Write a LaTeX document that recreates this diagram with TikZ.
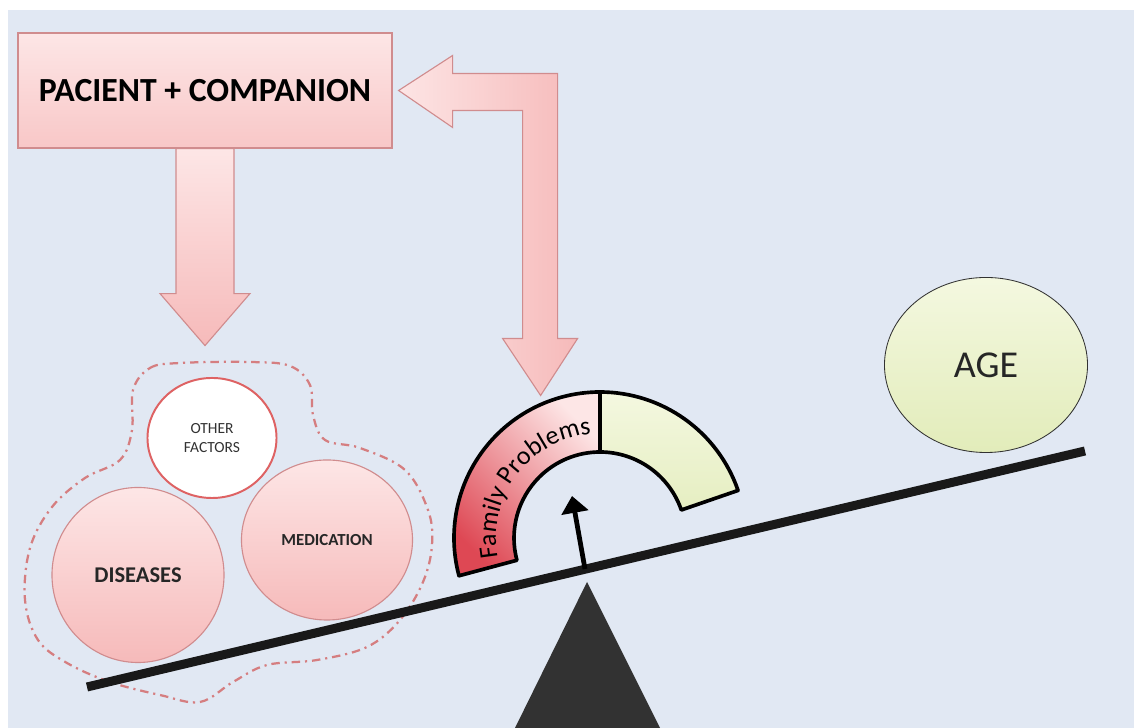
\documentclass[tikz,border=0pt]{standalone}
\usepackage{fontspec}
\setmainfont{Carlito}
\usepackage{tikz}
\usetikzlibrary{arrows.meta,shapes.geometric,decorations.text}
\definecolor{fondo}{RGB}{225,232,243}
\definecolor{rosaClaro}{RGB}{253,230,230}
\definecolor{rosa}{RGB}{246,186,186}
\definecolor{borde}{RGB}{208,140,142}
\definecolor{rojo}{RGB}{222,72,84}
\definecolor{limaClaro}{RGB}{244,248,224}
\definecolor{lima}{RGB}{226,236,186}
\definecolor{grisOscuro}{RGB}{50,50,50}
\tikzstyle{caja}  =[rectangle, draw=borde, line width=0.8pt,
                    top color=rosaClaro, bottom color=rosa!70!rosaClaro,
                    minimum width=9.35cm, minimum height=2.875cm,
                    font=\fontsize{24}{28}\selectfont\bfseries]
\tikzstyle{bloque}=[draw=borde, line width=0.8pt]
\tikzstyle{bola}  =[ellipse, draw=borde, line width=0.8pt,
                    top color=rosaClaro, bottom color=rosa,
                    inner sep=0pt, text=black!85]
\tikzstyle{nube}  =[draw=borde!90!red, line width=1.6pt,
                    dash pattern=on 6pt off 3.5pt on 1.5pt off 3.5pt]
\tikzstyle{barra} =[line width=6.4pt, black!90]
\tikzstyle{aguja} =[line width=3.4pt, black,
                    -{Triangle[length=12pt,width=19pt]}]
\tikzstyle{arco}  =[draw=black, line width=2.6pt, line join=round]

\begin{document}
\begin{tikzpicture}[x=0.025cm, y=0.025cm]
    \useasboundingbox (0,0) rectangle (1134,728);
    \fill[fondo] (8,0) rectangle (1134,718);

    % grupo de factores
    \draw[nube] plot[smooth cycle, tension=0.6] coordinates {
        (133,338) (150,360) (180,365) (250,366) (290,362) (310,343)
        (313,313) (325,288) (360,280) (405,258) (428,218) (432,183)
        (423,146) (400,108) (367,81) (317,68) (267,63) (233,46)
        (200,26) (160,33) (110,46) (67,65) (38,88) (25,128)
        (30,180) (52,221) (85,250) (120,268) (132,298)};

    % balanza
    \coordinate (beamL) at (87,41);
    \coordinate (beamR) at (1085,277);
    \draw[barra] (beamL) -- (beamR);
    \fill[grisOscuro] (587,146) -- (660,0) -- (515,0) -- cycle;

    \draw (212,290) node (other) [bola, fill=white, top color=white, bottom color=white,
        draw=borde!70!red, line width=1.4pt, minimum width=3.225cm, minimum height=3cm,
        align=center, text=grisOscuro, font=\fontsize{11}{13}\selectfont] {OTHER\\FACTORS};
    \draw (138,153) node (diseases) [bola, minimum width=4.3cm, minimum height=4.375cm,
        font=\fontsize{16}{18}\selectfont\bfseries] {DISEASES};
    \draw (327,188) node (medication) [bola, minimum width=4.275cm, minimum height=4cm,
        font=\fontsize{12}{14}\selectfont\bfseries] {MEDICATION};
    \draw (986,363) node (age) [bola, draw=grisOscuro, line width=0.6pt,
        top color=limaClaro, bottom color=lima, minimum width=5.075cm,
        minimum height=4.375cm, font=\fontsize{27}{30}\selectfont] {AGE};

    % indicador
    \coordinate (hub) at (600,190);
    \draw[arco, top color=rosaClaro, bottom color=rojo, shading angle=-45]
        (hub) ++(90:146) arc[start angle=90, end angle=195, radius=146]
        -- ++(195:-60) arc[start angle=195, end angle=90, radius=86] -- cycle;
    \draw[arco, top color=limaClaro, bottom color=lima]
        (hub) ++(19:146) arc[start angle=19, end angle=90, radius=146]
        -- ++(90:-60) arc[start angle=90, end angle=19, radius=86] -- cycle;
    \path[decorate, decoration={text along path, text align=left,
        text={|\fontsize{18.5}{21}\selectfont|Family Problems}}]
        (hub) ++(191:104) arc[start angle=191, end angle=92, radius=104];

    \coordinate (pivot) at (585,159);
    \coordinate (needle) at (572,232);
    \draw[aguja] (pivot) -- (needle);

    % paciente y flechas
    \draw (205,637.5) node (pacient) [caja] {PACIENT + COMPANION};
    \draw[bloque, top color=rosaClaro, bottom color=rosa]
        (pacient.south) ++(-29,0) -- ++(0,-145) -- ++(-16,0) -- ++(45,-52)
        -- ++(45,52) -- ++(-16,0) -- ++(0,145) -- cycle;
    \draw[bloque, left color=rosaClaro, right color=rosa]
        (pacient.east) ++(6,0) -- ++(54,35) -- ++(0,-18) -- ++(105,0)
        -- ++(0,-265) -- ++(20,0) -- ++(-37,-57) -- ++(-38,57) -- ++(20,0)
        -- ++(0,228) -- ++(-70,0) -- ++(0,-17) -- cycle;

\end{tikzpicture}
\end{document}
